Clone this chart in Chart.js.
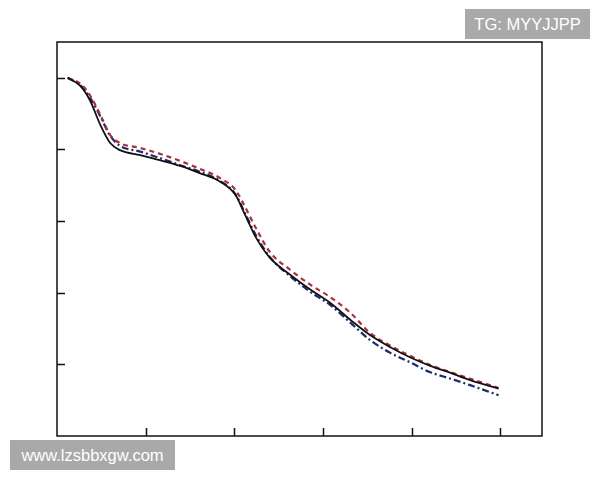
<!DOCTYPE html>
<html>
<head>
<meta charset="utf-8">
<script src="https://cdn.jsdelivr.net/npm/chart.js@4/dist/chart.umd.min.js"></script>
<style>
  html, body {
    margin: 0;
    padding: 0;
    background: #ffffff;
  }

  #wrap {
    position: relative;
    width: 600px;
    height: 480px;
  }

  .mark {
    position: absolute;
    background: #a9a9a9;
    color: #ffffff;
    font-family: "Liberation Sans", Arial, sans-serif;
    font-size: 16.5px;
    line-height: 30px;
    text-align: center;
  }

  #mark-top {
    left: 465px;
    top: 9px;
    width: 125px;
    height: 30px;
  }

  #mark-bottom {
    left: 10px;
    top: 440px;
    width: 165px;
    height: 30px;
  }
</style>
</head>
<body>
<div id="wrap">
  <canvas id="chart" width="600" height="480"></canvas>
  <div class="mark" id="mark-top">TG: MYYJJPP</div>
  <div class="mark" id="mark-bottom">www.lzsbbxgw.com</div>
</div>
<script>
const xValues = [0.12, 0.26, 0.37, 0.49, 0.6, 0.71, 0.94, 1.16, 1.39, 1.61, 1.84, 2.01, 2.12,
  2.24, 2.4, 2.63, 2.86, 3.08, 3.31, 3.53, 3.76, 3.98, 4.21, 4.44, 4.66, 4.98];

const solidLine = [5.0, 4.89, 4.69, 4.34, 4.09, 3.99, 3.92, 3.85, 3.77, 3.67, 3.55, 3.37, 3.09,
  2.78, 2.49, 2.25, 2.04, 1.86, 1.62, 1.41, 1.24, 1.10, 0.98, 0.88, 0.78, 0.66];

const dashedLine = [5.0, 4.92, 4.76, 4.48, 4.2, 4.09, 4.02, 3.94, 3.84, 3.73, 3.6, 3.44, 3.2,
  2.91, 2.57, 2.32, 2.11, 1.94, 1.72, 1.44, 1.26, 1.12, 0.99, 0.89, 0.8, 0.67];

const dashDotLine = [5.0, 4.9, 4.73, 4.46, 4.19, 4.05, 3.97, 3.88, 3.78, 3.69, 3.56, 3.38, 3.11,
  2.81, 2.5, 2.23, 2.01, 1.83, 1.58, 1.34, 1.16, 1.03, 0.89, 0.8, 0.71, 0.57];

const xTicks = [1, 2, 3, 4, 5];
const yTicks = [1, 2, 3, 4, 5];

function toPoints(values) {
  return values.map((y, i) => ({ x: xValues[i], y: y }));
}

// frame round the plot and short ticks pointing inwards
const framePlugin = {
  id: "frame",
  afterDraw(chart) {
    const ctx = chart.ctx;
    const area = chart.chartArea;
    const xScale = chart.scales.x;
    const yScale = chart.scales.y;

    ctx.save();
    ctx.strokeStyle = "#111111";
    ctx.lineWidth = 1.5;
    ctx.strokeRect(area.left, area.top, area.right - area.left, area.bottom - area.top);

    ctx.beginPath();
    xTicks.forEach((tick) => {
      const px = Math.round(xScale.getPixelForValue(tick)) + 0.5;
      ctx.moveTo(px, area.bottom);
      ctx.lineTo(px, area.bottom - 8);
    });
    yTicks.forEach((tick) => {
      const py = Math.round(yScale.getPixelForValue(tick)) + 0.5;
      ctx.moveTo(area.left, py);
      ctx.lineTo(area.left + 8, py);
    });
    ctx.stroke();
    ctx.restore();
  }
};

new Chart(document.getElementById("chart"), {
  type: "line",

  data: {
    datasets: [
      {
        label: "solid",
        data: toPoints(solidLine),
        borderColor: "#111111",
        borderWidth: 1.8,
        pointRadius: 0,
        cubicInterpolationMode: "monotone"
      },
      {
        label: "dashed",
        data: toPoints(dashedLine),
        borderColor: "#a8303e",
        borderWidth: 2.2,
        borderDash: [5, 4],
        pointRadius: 0,
        cubicInterpolationMode: "monotone"
      },
      {
        label: "dash-dot",
        data: toPoints(dashDotLine),
        borderColor: "#1c2a6e",
        borderWidth: 2.2,
        borderDash: [7, 3, 2, 3],
        pointRadius: 0,
        cubicInterpolationMode: "monotone"
      }
    ]
  },

  options: {
    responsive: false,
    animation: false,

    layout: {
      padding: { left: 57, top: 42, right: 58, bottom: 44 }
    },

    plugins: {
      legend: { display: false },
      tooltip: { enabled: false }
    },

    scales: {
      x: {
        type: "linear",
        display: false,
        min: 0,
        max: 5.47
      },
      y: {
        type: "linear",
        display: false,
        min: 0,
        max: 5.5
      }
    }
  },

  plugins: [framePlugin]
});
</script>
</body>
</html>
